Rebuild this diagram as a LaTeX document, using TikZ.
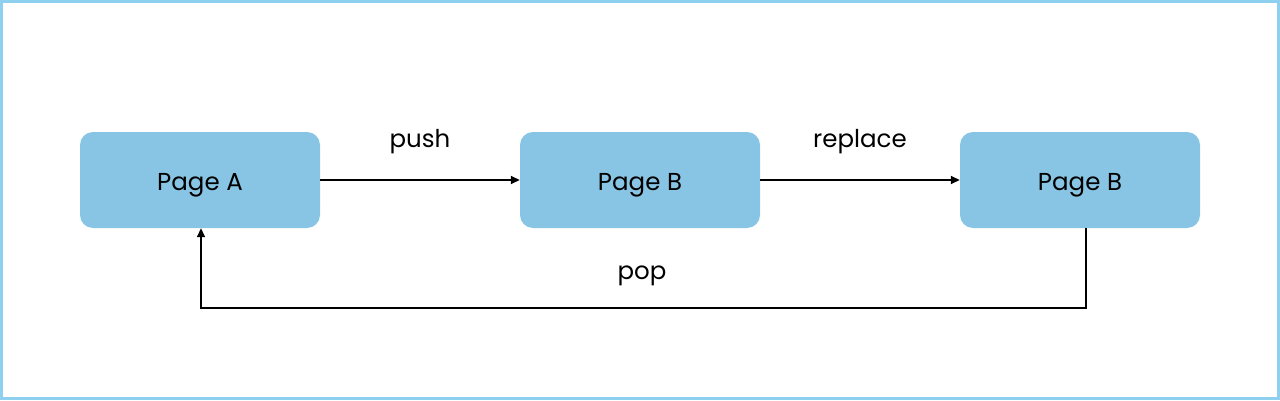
\documentclass[tikz,border=0pt]{standalone}
\usepackage{fontspec}
\setmainfont{Poppins}
\usetikzlibrary{arrows.meta}
\definecolor{pagefill}{HTML}{88C5E4}
\definecolor{framecolor}{HTML}{8DD0EF}
\begin{document}
\begin{tikzpicture}
[x=1pt,y=1pt,
  pagedecorate/.style={shape=rectangle,rounded corners=13pt,fill=pagefill,
    minimum width=240pt,minimum height=96pt,inner sep=0pt,
    text height=20pt,text depth=0pt,
    font=\fontsize{24.5}{28}\selectfont},
  labeldecorate/.style={font=\fontsize{24.5}{28}\selectfont},
  linedecorate/.style={-{Triangle[length=9pt,width=8pt]},line width=1.5pt}]
%% frame
\draw[framecolor,line width=3pt] (1.5,1.5) rectangle (1278.5,398.5);
\useasboundingbox (0,0) rectangle (1280,400);
%% nodes or pages
\foreach \nodename/\x/\y/\txt in {pageA/200/220/Page A, pageB/640/220/Page B, pageC/1080/220/Page B} {
  \node (\nodename) at (\x,\y) [pagedecorate] {\txt};
}
%% labels
\foreach \nodename/\x/\y/\txt in {pushlabel/420/258/push, replacelabel/860/258/replace, poplabel/642/124/pop} {
  \node (\nodename) at (\x,\y) [labeldecorate] {\txt};
}
%% corners of the way back
\coordinate (popright) at (1086,92);
\coordinate (popleft) at (201,92);
%% edges or lines
\path
\foreach \startnode/\endnode in {pageA/pageB, pageB/pageC} {
  (\startnode) edge[linedecorate] (\endnode)
};
\draw[linedecorate] ([xshift=6pt]pageC.south) -- (popright) -- (popleft) -- ([xshift=1pt]pageA.south);
\end{tikzpicture}
\end{document}
